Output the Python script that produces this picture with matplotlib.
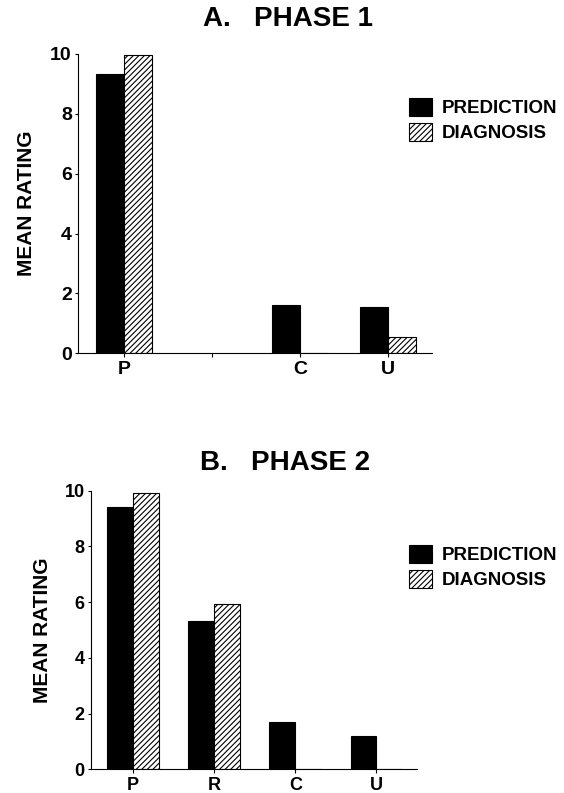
import numpy as np
import matplotlib
matplotlib.use("Agg")
import matplotlib.pyplot as plt
from matplotlib.patches import Patch

plt.rcParams['font.family'] = ['Liberation Sans', 'DejaVu Sans']
plt.rcParams['font.weight'] = 'bold'
plt.rcParams['hatch.linewidth'] = 0.8

categories = ['P', 'R', 'C', 'U']
phase1_ticklabels = ['P', '', 'C', 'U']
phase2_ticklabels = ['P', 'R', 'C', 'U']

phase1_prediction = [9.33, np.nan, 1.62, 1.54]
phase1_diagnosis = [9.95, np.nan, 0.0, 0.54]
phase2_prediction = [9.43, 5.32, 1.69, 1.21]
phase2_diagnosis = [9.90, 5.93, 0.0, 0.0]

series_labels = ['PREDICTION', 'DIAGNOSIS']
titles = ['A.   PHASE 1', 'B.   PHASE 2']

W, H = 564, 793
fig = plt.figure(figsize=(W / 100, H / 100), dpi=100)

def ax_rect(left, right, top, bottom):
    return [left / W, 1 - bottom / H, (right - left) / W, (bottom - top) / H]

axA = fig.add_axes(ax_rect(78, 432, 54, 353.3))
axB = fig.add_axes(ax_rect(91, 417, 490.7, 769.3))

bw = 0.32
x = np.arange(len(categories))
HATCH = '//////'

def draw(ax, pred, diag, ticklabels, ylabel_pad, fs):
    ax.bar(x - bw / 2, pred, width=bw, color='black', edgecolor='black', linewidth=0.8)
    ax.bar(x + bw / 2, diag, width=bw, color='white', edgecolor='black',
           hatch=HATCH, linewidth=0.8)
    ax.set_xlim(-0.52, 3.5)
    ax.set_ylim(0, 10)
    ax.set_yticks([0, 2, 4, 6, 8, 10])
    ax.set_xticks(x)
    ax.set_xticklabels(ticklabels, fontsize=fs, fontweight='bold')
    ax.tick_params(axis='y', labelsize=fs, length=2.5, width=0.8, pad=2)
    ax.tick_params(axis='x', length=3, width=0.8, pad=2.5)
    for s in ['top', 'right']:
        ax.spines[s].set_visible(False)
    for s in ['left', 'bottom']:
        ax.spines[s].set_linewidth(0.8)
    ax.set_ylabel('MEAN RATING', fontsize=15, fontweight='bold', labelpad=ylabel_pad)

draw(axA, phase1_prediction, phase1_diagnosis, phase1_ticklabels, 10, 14)
draw(axB, phase2_prediction, phase2_diagnosis, phase2_ticklabels, 9, 13)

fig.text(288 / W, 1 - 19 / H, titles[0], ha='center', va='center', fontsize=20, fontweight='bold')
fig.text(285 / W, 1 - 463 / H, titles[1], ha='center', va='center', fontsize=20, fontweight='bold')

handles = [Patch(facecolor='black', edgecolor='black', linewidth=0.8),
           Patch(facecolor='white', edgecolor='black', hatch=HATCH, linewidth=0.8)]

for top_px in (98, 545):
    fig.legend(handles, series_labels, loc='upper left',
               bbox_to_anchor=(409 / W, 1 - top_px / H),
               frameon=False, handlelength=1.25, handleheight=1.1,
               handletextpad=0.5, labelspacing=0.3, borderpad=0, borderaxespad=0,
               prop={'weight': 'bold', 'size': 13.5})

fig.savefig('out.png', dpi=100)
